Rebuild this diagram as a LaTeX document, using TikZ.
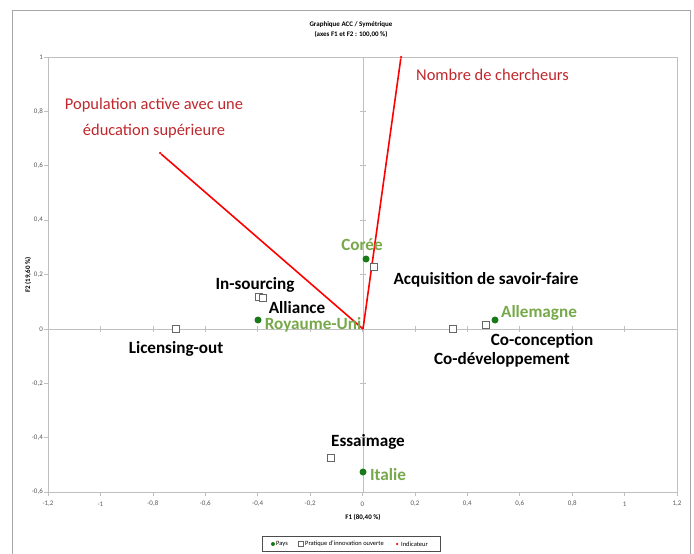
\documentclass[tikz,border=0pt]{standalone}
\usepackage{fontspec}
\setmainfont{Carlito}
\definecolor{frame}{HTML}{A6A6A6}
\definecolor{axisgray}{HTML}{BFBFBF}
\definecolor{indred}{HTML}{FF0000}
\definecolor{labred}{HTML}{C0282D}
\definecolor{labgreen}{HTML}{77A94A}
\definecolor{dotgreen}{HTML}{1A7A1A}
\tikzset{
  pays/.style={circle,fill=dotgreen,inner sep=0pt,minimum size=7bp},
  pratique/.style={rectangle,draw=gray!80!black,fill=white,line width=0.6bp,inner sep=0pt,minimum size=7bp},
  indic/.style={circle,fill=indred,inner sep=0pt,minimum size=2.5bp},
  vec/.style={draw=indred,line width=1.6bp},
  blab/.style={font=\bfseries\fontsize{17.2}{20}\selectfont,text=black,inner sep=0pt},
  glab/.style={font=\bfseries\fontsize{17.2}{20}\selectfont,text=labgreen,inner sep=0pt},
  rlab/.style={font=\fontsize{16.5}{26}\selectfont,text=labred,inner sep=0pt,align=center},
  ticklab/.style={font=\fontsize{7}{8}\selectfont,text=black!65,inner sep=0pt},
  smallbold/.style={font=\bfseries\fontsize{7}{10}\selectfont,inner sep=0pt,align=center},
}
\begin{document}
\begin{tikzpicture}[x=1bp,y=-1bp]
\useasboundingbox (0,0) rectangle (694,554);
\fill[white] (0,0) rectangle (694,554);
% chart frame
\draw[frame,line width=0.8bp] (12,554) -- (12,10) -- (690,10) -- (690,554);
% plot area
\draw[axisgray,line width=0.8bp] (48,57) rectangle (677,492);
% axes through origin
\draw[axisgray,line width=0.8bp] (48,329) -- (677,329);
\draw[axisgray,line width=0.8bp] (363,57) -- (363,492);
% x ticks and labels
\foreach \t [count=\i from 0] in {{-1,2},-1,{-0,8},{-0,6},{-0,4},{-0,2},0,{0,2},{0,4},{0,6},{0,8},1,{1,2}}{
  \pgfmathsetmacro{\xx}{48+\i*52.417}
  \draw[axisgray,line width=0.6bp] (\xx,492) -- (\xx,496);
  \draw[axisgray,line width=0.6bp] (\xx,326) -- (\xx,332);
  \node[ticklab] (xt\i) at (\xx,504) {\t};
}
% y ticks and labels
\foreach \t [count=\i from 0] in {1,{0,8},{0,6},{0,4},{0,2},0,{-0,2},{-0,4},{-0,6}}{
  \pgfmathsetmacro{\yy}{57+\i*54.375}
  \draw[axisgray,line width=0.6bp] (44,\yy) -- (48,\yy);
  \draw[axisgray,line width=0.6bp] (360,\yy) -- (366,\yy);
  \node[ticklab,anchor=east] (yt\i) at (43,\yy) {\t};
}
% title and axis titles
\node[smallbold] (title) at (351,30) {Graphique ACC / Symétrique\\(axes F1 et F2 : 100,00 \%)};
\node[smallbold] (xtitle) at (363,517) {F1 (80,40 \%)};
\node[smallbold,rotate=90] (ytitle) at (28,275) {F2 (19,60 \%)};
% legend
\node[draw=black!70,line width=0.6bp,minimum width=178bp,minimum height=15bp,inner sep=0pt] (legend) at (351,544) {};
\node[pays,minimum size=4bp] (lg1) at (273,544) {};
\node[font=\fontsize{6.5}{8}\selectfont,anchor=west,inner sep=0pt] (lt1) at (276,544) {Pays};
\node[pratique,minimum size=5bp] (lg2) at (301,544) {};
\node[font=\fontsize{6.5}{8}\selectfont,anchor=west,inner sep=0pt] (lt2) at (305,544) {Pratique d'innovation ouverte};
\node[indic,minimum size=2.5bp] (lg3) at (397,544) {};
\node[font=\fontsize{6.5}{8}\selectfont,anchor=west,inner sep=0pt] (lt3) at (401,544) {Indicateur};
% indicators
\coordinate (O) at (363,329);
\node[indic] (pop) at (160,153) {};
\node[indic] (cher) at (401,57) {};
\draw[vec] (O) -- (pop);
\draw[vec] (O) -- (cher);
\node[rlab] (poplab) at (154,118) {Population active avec une\\éducation supérieure};
\node[rlab,anchor=west] (cherlab) at (416,75) {Nombre de chercheurs};
% pratiques
\node[pratique] (acq) at (374,267) {};
\node[pratique] (ins1) at (259,297) {};
\node[pratique] (ins2) at (263,298) {};
\node[pratique] (lic) at (176,329) {};
\node[pratique] (codev) at (453,329) {};
\node[pratique] (cocon) at (486,325) {};
\node[pratique] (ess) at (331,458) {};
% pays
\node[pays] (coree) at (366,259) {};
\node[pays] (ru) at (258,320) {};
\node[pays] (all) at (495,320) {};
\node[pays] (ita) at (363,472) {};
% labels
\node[glab] (coreelab) at (362,245) {Corée};
\node[blab] (acqlab) at (486,280) {Acquisition de savoir-faire};
\node[blab] (inslab) at (255,285) {In-sourcing};
\node[blab] (alllab) at (297,308) {Alliance};
\node[glab] (rulab) at (313,325) {Royaume-Uni};
\node[blab] (liclab) at (176,349) {Licensing-out};
\node[glab] (allelab) at (539,313) {Allemagne};
\node[blab] (coconlab) at (542,341) {Co-conception};
\node[blab] (codevlab) at (502,360) {Co-développement};
\node[blab] (esslab) at (368,442) {Essaimage};
\node[glab] (italab) at (388,475) {Italie};
\end{tikzpicture}
\end{document}
